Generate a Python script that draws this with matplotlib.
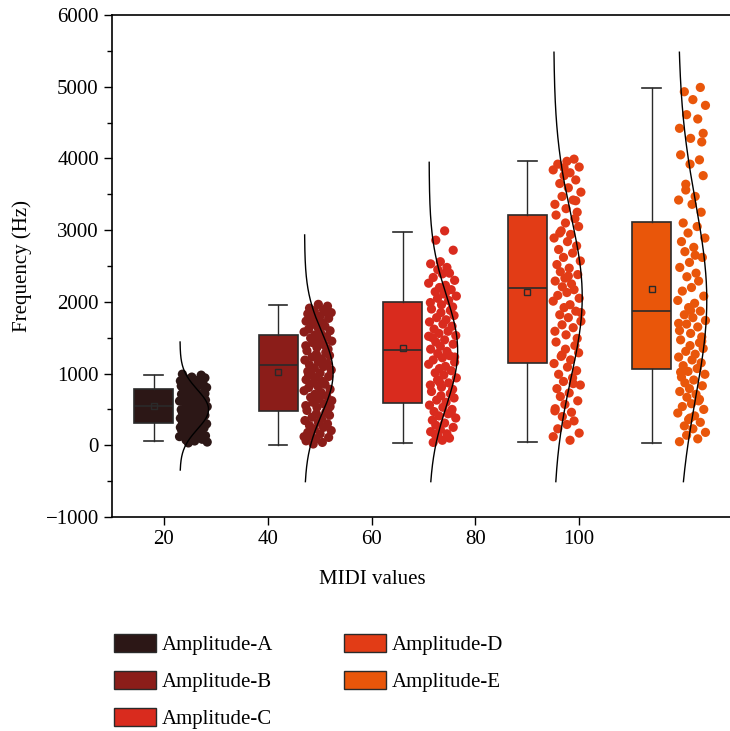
import numpy as np
import matplotlib
matplotlib.use("Agg")
import matplotlib.pyplot as plt
from matplotlib.patches import Patch
from matplotlib.ticker import MultipleLocator

plt.rcParams["font.family"] = ["Liberation Serif", "DejaVu Serif"]
plt.rcParams["font.size"] = 15

# ---------------------------------------------------------------------
# Data
# ---------------------------------------------------------------------
LABELS = ["Amplitude-A", "Amplitude-B", "Amplitude-C", "Amplitude-D", "Amplitude-E"]
COLORS = ["#2c1716", "#8b1d19", "#d92b1e", "#e23c16", "#e9560a"]
POSITIONS = [18, 42, 66, 90, 114]
XTICKS = [20, 40, 60, 80, 100]

Q1 = [315, 480, 594, 1152, 1064]
MEDIAN = [548, 1115, 1329, 2198, 1873]
Q3 = [785, 1538, 1994, 3212, 3110]
WHISLO = [64, 4, 28, 50, 28]
WHISHI = [980, 1960, 2979, 3969, 4979]
MEAN = [548, 1027, 1352, 2142, 2176]

CURVE_LO = [-345, -507, -507, -507, -507]
CURVE_HI = [1440, 2933, 3946, 5481, 5481]

PTS_A = [992, 978, 951, 940, 923, 905, 897, 874, 866, 851, 838, 812, 806, 790,
         771, 768, 745, 733, 712, 704, 688, 671, 660, 642, 631, 617, 598, 590,
         574, 566, 551, 540, 522, 511, 497, 485, 470, 458, 447, 431, 418, 402,
         395, 377, 365, 351, 338, 322, 314, 298, 286, 270, 259, 243, 231, 214,
         205, 188, 176, 161, 148, 133, 121, 108, 96, 84, 72, 60, 45, 33, 915,
         826, 655, 482, 303, 127, 860, 720, 590, 410, 250, 90]
PTS_B = [1965, 1940, 1912, 1890, 1876, 1850, 1833, 1802, 1795, 1770, 1748, 1731,
         1705, 1690, 1662, 1648, 1620, 1597, 1580, 1556, 1540, 1512, 1495, 1470,
         1452, 1430, 1402, 1388, 1365, 1340, 1318, 1296, 1270, 1252, 1230, 1205,
         1188, 1160, 1140, 1118, 1097, 1075, 1050, 1030, 1008, 985, 960, 942, 915,
         893, 870, 852, 826, 805, 780, 761, 738, 712, 690, 668, 645, 622, 600, 575,
         553, 530, 508, 486, 462, 440, 418, 392, 370, 345, 322, 300, 275, 250, 228,
         205, 180, 158, 132, 110, 88, 62, 40, 18, 1860, 1420, 980, 540, 120]
PTS_C = [2990, 2860, 2720, 2560, 2530, 2480, 2450, 2400, 2390, 2340, 2300, 2260,
         2230, 2200, 2170, 2140, 2110, 2080, 2050, 2020, 1990, 1960, 1930, 1900,
         1880, 1850, 1810, 1780, 1750, 1720, 1690, 1660, 1620, 1590, 1560, 1530,
         1500, 1470, 1440, 1410, 1380, 1340, 1310, 1280, 1250, 1220, 1190, 1160,
         1130, 1100, 1070, 1040, 1010, 980, 940, 910, 870, 840, 810, 780, 750, 720,
         690, 660, 630, 600, 560, 530, 500, 470, 440, 410, 380, 350, 310, 280, 250,
         220, 190, 160, 130, 100, 70, 40, 1230, 1520, 2120, 880, 450, 150]
PTS_D = [3990, 3960, 3920, 3880, 3840, 3800, 3760, 3700, 3650, 3590, 3530, 3470,
         3420, 3360, 3300, 3250, 3210, 3160, 3100, 3050, 2990, 2940, 2890, 2840,
         2780, 2730, 2680, 2620, 2570, 2520, 2470, 2420, 2380, 2330, 2290, 2250,
         2210, 2170, 2130, 2090, 2050, 2010, 1960, 1920, 1870, 1820, 1780, 1730,
         1680, 1640, 1590, 1540, 1490, 1440, 1390, 1340, 1290, 1240, 1190, 1140,
         1090, 1040, 990, 940, 890, 840, 790, 730, 680, 620, 570, 510, 460, 400,
         340, 290, 230, 170, 120, 70, 3870, 3410, 2960, 2360, 1850, 1260, 860, 480]
PTS_E = [4990, 4930, 4820, 4740, 4610, 4550, 4420, 4280, 4230, 4050, 3980, 3920,
         3760, 3640, 3470, 3420, 3360, 3250, 3100, 3050, 2960, 2890, 2840, 2760,
         2700, 2620, 2550, 2480, 2400, 2350, 2290, 2200, 2150, 2080, 2020, 1980,
         1920, 1870, 1820, 1780, 1740, 1690, 1650, 1600, 1560, 1510, 1470, 1430,
         1390, 1350, 1310, 1270, 1230, 1190, 1150, 1110, 1070, 1030, 990, 950, 910,
         870, 830, 790, 750, 710, 670, 620, 580, 540, 500, 450, 410, 360, 320, 270,
         230, 180, 140, 90, 50, 1880, 1450, 1020, 640, 380, 4350, 3560, 2650, 1700]
POINTS = [PTS_A, PTS_B, PTS_C, PTS_D, PTS_E]

# fixed horizontal jitter pattern (fraction of the strip width), cycled
JITTER = [0.12, 0.78, 0.45, 0.91, 0.30, 0.63, 0.05, 0.52, 0.84, 0.21, 0.70,
          0.38, 0.97, 0.15, 0.58, 0.27, 0.88, 0.43, 0.09, 0.66, 0.34, 0.75,
          0.50, 0.18, 0.93, 0.02, 0.61, 0.40, 0.81, 0.25, 0.55, 0.99, 0.33,
          0.72, 0.08, 0.47, 0.86]

BOX_W = 7.5
OFFSET = 5.1      # distance from box centre to the curve baseline
STRIP_W = 5.5     # width of the jittered strip / curve peak
EDGE = "#2a2a2a"

fig = plt.figure(figsize=(7.3, 7.31), dpi=100)
ax = fig.add_axes([112 / 730, 1 - 517 / 731, 628 / 730, 502 / 731])

stats = []
for i in range(len(LABELS)):
    stats.append(dict(med=MEDIAN[i], q1=Q1[i], q3=Q3[i], whislo=WHISLO[i],
                      whishi=WHISHI[i], mean=MEAN[i], fliers=[]))

bp = ax.bxp(stats, positions=POSITIONS, widths=BOX_W, capwidths=3.6,
            patch_artist=True, showmeans=True, manage_ticks=False,
            boxprops=dict(edgecolor=EDGE, linewidth=1.2),
            medianprops=dict(color=EDGE, linewidth=1.2),
            whiskerprops=dict(color=EDGE, linewidth=1.0),
            capprops=dict(color=EDGE, linewidth=1.2),
            meanprops=dict(marker="s", markerfacecolor="none",
                           markeredgecolor=EDGE, markersize=5,
                           markeredgewidth=1.0))
for patch, c in zip(bp["boxes"], COLORS):
    patch.set_facecolor(c)

for i, pts in enumerate(POINTS):
    ys = np.array(pts, dtype=float)
    jit = np.array([JITTER[(k + 7 * i) % len(JITTER)] for k in range(len(ys))])
    xs = POSITIONS[i] + OFFSET - 0.2 + jit * STRIP_W
    ax.scatter(xs, ys, s=44, color=COLORS[i], edgecolor="none", zorder=2)

    mu, sd = ys.mean(), ys.std()
    yy = np.linspace(CURVE_LO[i], CURVE_HI[i], 300)
    dens = np.exp(-0.5 * ((yy - mu) / sd) ** 2)
    ax.plot(POSITIONS[i] + OFFSET + dens * STRIP_W, yy, color="black",
            linewidth=1.0, zorder=3)

ax.set_xlim(10, 131)
ax.set_ylim(-1000, 6000)
ax.set_xticks(XTICKS)
ax.yaxis.set_major_locator(MultipleLocator(1000))
ax.yaxis.set_minor_locator(MultipleLocator(500))
ax.tick_params(axis="both", which="major", direction="out", length=6, width=1.0)
ax.tick_params(axis="y", which="minor", direction="out", length=3.5, width=1.0)
for sp in ax.spines.values():
    sp.set_linewidth(1.2)

ax.set_xlabel("MIDI values", labelpad=10)
ax.xaxis.set_label_coords((372 - 112) / 628, -0.105)
ax.set_ylabel("Frequency (Hz)", labelpad=10)

handles = [Patch(facecolor=c, edgecolor=EDGE, linewidth=1.0) for c in COLORS]
fig.legend(handles, LABELS, loc="upper left", ncol=2, frameon=False,
           bbox_to_anchor=(114 / 730, 1 - 634 / 731), borderaxespad=0,
           borderpad=0, handlelength=2.0, handleheight=0.95,
           handletextpad=0.3, labelspacing=0.75, columnspacing=3.4,
           fontsize=15)

fig.savefig("out.png", dpi=100)
